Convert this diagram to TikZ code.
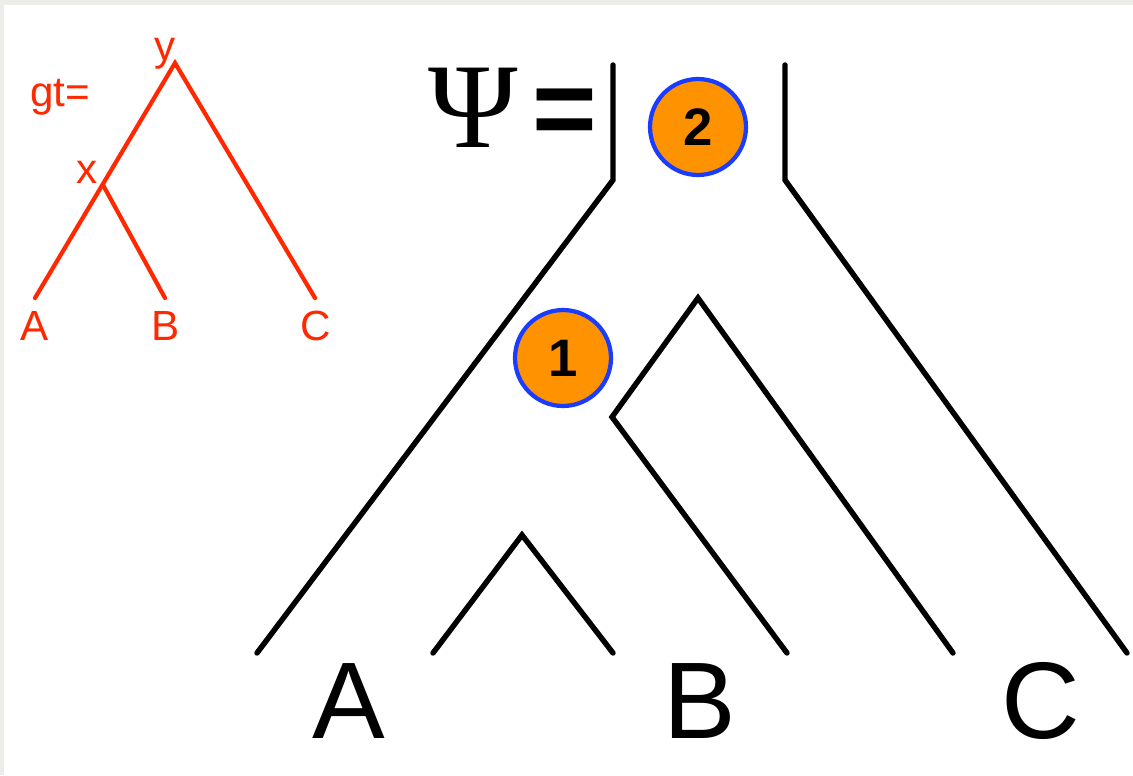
\documentclass[tikz,border=0pt]{standalone}
\usepackage{fontspec}
\setmainfont{Liberation Sans}
\newfontfamily\psifont{Liberation Serif}
\usetikzlibrary{positioning}
\definecolor{gtred}{RGB}{255,40,0}
\definecolor{ballorange}{RGB}{255,146,0}
\definecolor{ballblue}{RGB}{25,60,255}
\definecolor{framegray}{RGB}{236,236,233}

\begin{document}
\begin{tikzpicture}[
    x=0.02cm, y=-0.02cm,
    branch/.style={line width=3.1pt, line cap=round, line join=miter},
    gtbranch/.style={gtred, line width=2.4pt, line cap=round},
    gtlabel/.style={text=gtred, font=\fontsize{24}{24}\selectfont, inner sep=0pt, anchor=base},
    taxon/.style={font=\fontsize{62}{62}\selectfont, inner sep=0pt, anchor=base},
    event/.style={circle, draw=ballblue, fill=ballorange, line width=2.4pt, minimum size=1.92cm, inner sep=0pt, font=\bfseries\fontsize{30}{30}\selectfont}
]

% Frame
\useasboundingbox (0,0) rectangle (1133,775);
\fill[framegray] (0,0) rectangle (1133,775);
\fill[white] (4,5) rectangle (1133,775);

% Gene tree
\coordinate (gy) at (175,63);
\coordinate (gx) at (103,185);
\coordinate (ga) at (35,298);
\coordinate (gb) at (165,298);
\coordinate (gc) at (315,298);
\draw[gtbranch] (ga) -- (gy) -- (gc);
\draw[gtbranch] (gx) -- (gb);
\node[gtlabel] (gtlab) at (60,106) {gt=};
\node[gtlabel] (ylab) at (165,60) {y};
\node[gtlabel] (xlab) at (87,183) {x};
\node[gtlabel] (alab) at (35,340) {A};
\node[gtlabel] (blab) at (166,340) {B};
\node[gtlabel] (clab) at (316,340) {C};

% Species tree
\coordinate (ltop) at (613,65);
\coordinate (lknee) at (613,180);
\coordinate (lfoot) at (257,653);
\coordinate (rtop) at (785,65);
\coordinate (rknee) at (785,180);
\coordinate (rfoot) at (1127,653);
\coordinate (mcorner) at (612,417);
\coordinate (mtop) at (698,298);
\coordinate (mfootb) at (787,653);
\coordinate (mfootc) at (953,653);
\coordinate (wleft) at (433,653);
\coordinate (wtop) at (522,535);
\coordinate (wright) at (613,653);
\draw[branch] (ltop) -- (lknee) -- (lfoot);
\draw[branch] (rtop) -- (rknee) -- (rfoot);
\draw[branch] (mfootb) -- (mcorner) -- (mtop) -- (mfootc);
\draw[branch] (wleft) -- (wtop) -- (wright);

% Taxa
\node[taxon] (ta) at (349,738) {A};
\node[taxon] (tb) at (700,738) {B};
\node[taxon] (tc) at (1041,738) {C};

% Psi
\node[inner sep=0pt, font=\psifont\fontsize{69}{69}\selectfont] (psi) at (473,108) {Ψ};
\node[inner sep=0pt, font=\bfseries\fontsize{63}{63}\selectfont] (eq) at (565,118) {=};

% Events
\node[event] (e2) at (698,127) {2};
\node[event] (e1) at (563,358) {1};

\end{tikzpicture}
\end{document}
